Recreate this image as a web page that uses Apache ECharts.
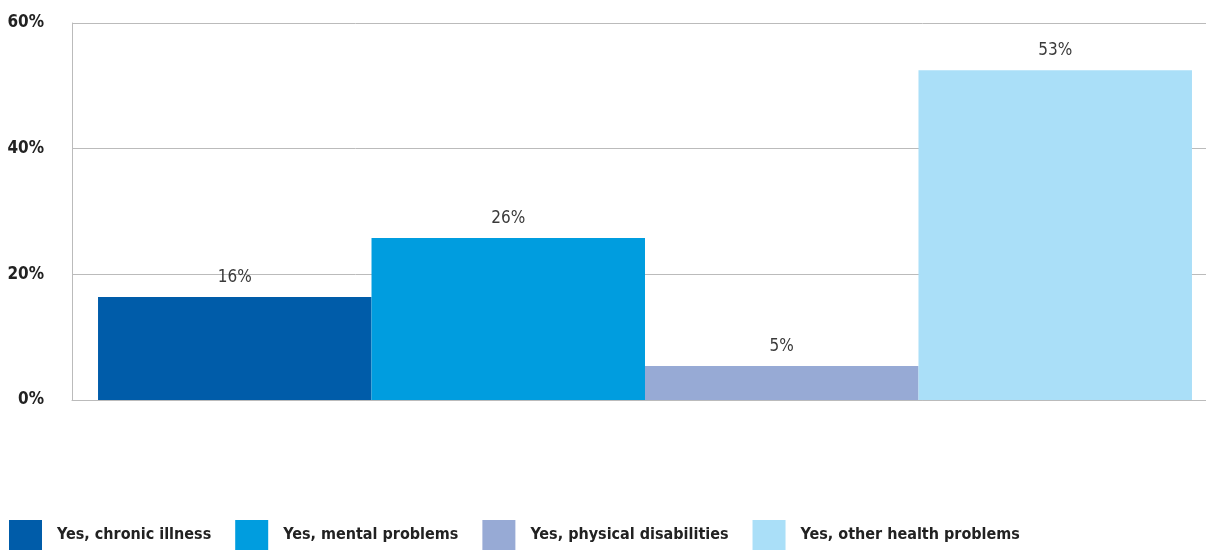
<!DOCTYPE html>
<html><head><meta charset="utf-8">
<script src="https://cdn.jsdelivr.net/npm/echarts@6/dist/echarts.min.js"></script>
<style>html,body{margin:0;padding:0;background:#fff}#c{width:1206px;height:550px}</style>
</head><body><div id="c"></div>
<script>
const categories = [''];
const seriesNames = ['Yes, chronic illness', 'Yes, mental problems', 'Yes, physical disabilities', 'Yes, other health problems'];
const seriesValues = [16.4, 25.8, 5.4, 52.5];
const colors = ['#005ca9', '#009ddf', '#97aad5', '#aadff8'];
const yTicks = [0, 20, 40, 60];

const FONT = '"Liberation Sans Narrow", "DejaVu Sans Condensed", sans-serif';
const chart = echarts.init(document.getElementById('c'));
const yMin = yTicks[0], yMax = yTicks[yTicks.length - 1];
chart.setOption({
  animation: false,
  grid: [
    { left: 72, right: 0, top: 23, bottom: 150 },
    { left: 84, right: 0, top: 23, bottom: 150 }
  ],
  legend: {
    left: 9, bottom: 0, padding: 0, itemWidth: 33, itemHeight: 30, itemGap: 24,
    icon: 'rect',
    data: seriesNames,
    textStyle: { fontFamily: FONT, fontSize: 16, fontWeight: 'bold', color: '#222', padding: [0, 0, 0, 10] }
  },
  xAxis: [
    { gridIndex: 0, type: 'category', data: categories,
      axisLine: { show: true, lineStyle: { color: '#bbb', width: 1 } },
      axisTick: { show: false }, axisLabel: { show: false } },
    { gridIndex: 1, type: 'category', data: categories, show: false }
  ],
  yAxis: [
    { gridIndex: 0, type: 'value', min: yMin, max: yMax, interval: 20,
      axisLine: { show: true, lineStyle: { color: '#bbb', width: 1 } },
      axisTick: { show: false },
      splitLine: { lineStyle: { color: '#bbb', width: 1 } },
      axisLabel: { formatter: '{value}%', margin: 28, fontFamily: FONT, fontSize: 17, fontWeight: 'bold', color: '#222',
        verticalAlign: 'middle', padding: [9, 0, 0, 0] } },
    { gridIndex: 1, type: 'value', min: yMin, max: yMax, interval: 20, show: false, splitLine: { show: false } }
  ],
  series: seriesNames.map((n, i) => ({
    name: n, type: 'bar', data: [seriesValues[i]],
    xAxisIndex: 1, yAxisIndex: 1,
    barGap: '0%', barCategoryGap: '2.5%',
    itemStyle: { color: colors[i] },
    label: { show: true, position: 'top', distance: 11, fontFamily: FONT, fontSize: 17, color: '#3a3a3a',
      formatter: p => Math.round(p.value) + '%' }
  }))
});
</script></body></html>
